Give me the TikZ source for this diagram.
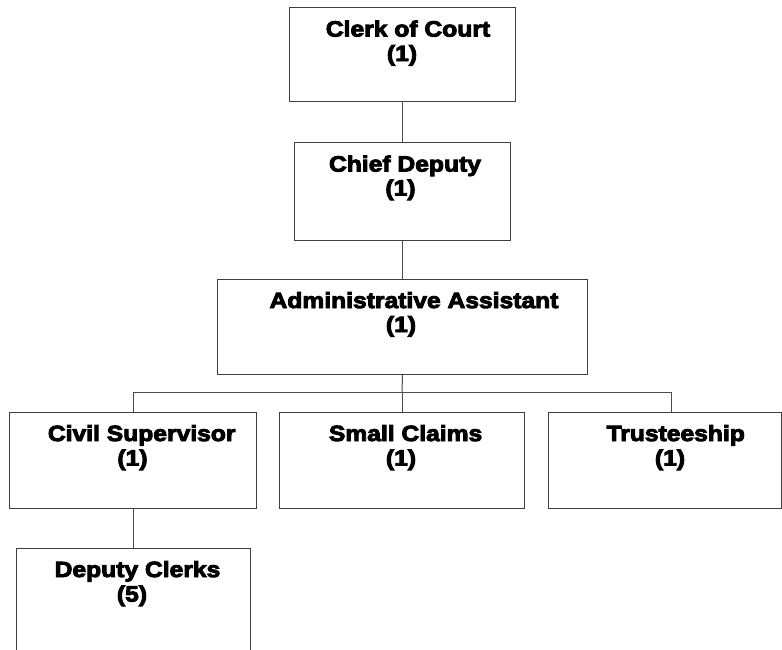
\documentclass[tikz,border=0pt]{standalone}
\usepackage{fontspec}
\newfontfamily\orgfont{Liberation Sans}[BoldFeatures={FakeStretch=1.12,FakeBold=4.2}]
\begin{document}
\begin{tikzpicture}[x=1pt,y=-1pt,
  orgbox/.style={draw=black!75, line width=1pt, rectangle, inner sep=0pt,
    anchor=north west},
  title/.style={anchor=base, inner sep=0pt,
    font=\orgfont\bfseries\fontsize{22}{24}\selectfont},
  link/.style={draw=black!70, line width=1pt}]
\useasboundingbox (0,0) rectangle (782,649);
\clip (0,0) rectangle (782,649);

% position boxes
\node[orgbox, minimum width=226pt, minimum height=94pt] (clerk) at (289,7) {};
\node[orgbox, minimum width=216pt, minimum height=98pt] (chief) at (294,142) {};
\node[orgbox, minimum width=370pt, minimum height=95pt] (admin) at (217,279) {};
\node[orgbox, minimum width=247pt, minimum height=96pt] (civil) at (9,412) {};
\node[orgbox, minimum width=245pt, minimum height=96pt] (small) at (279,412) {};
\node[orgbox, minimum width=233pt, minimum height=96pt] (trust) at (548,412) {};
\node[orgbox, minimum width=234pt, minimum height=120pt] (deputy) at (15.5,548) {};

% titles and head counts
\node[title] (clerkT) at (408,36.5) {Clerk of Court};
\node[title] (clerkN) at (402,61) {(1)};
\node[title] (chiefT) at (405,171.5) {Chief Deputy};
\node[title] (chiefN) at (400.5,195.5) {(1)};
\node[title] (adminT) at (414,308) {Administrative Assistant};
\node[title] (adminN) at (401,332) {(1)};
\node[title] (civilT) at (141.7,441) {Civil Supervisor};
\node[title] (civilN) at (132.5,465.5) {(1)};
\node[title] (smallT) at (405.6,441) {Small Claims};
\node[title] (smallN) at (401,465.5) {(1)};
\node[title] (trustT) at (675.7,441) {Trusteeship};
\node[title] (trustN) at (670,465.5) {(1)};
\node[title] (deputyT) at (137.5,577) {Deputy Clerks};
\node[title] (deputyN) at (132,601.5) {(5)};

% reporting lines
\coordinate (bus) at (402,392.5);
\coordinate (trustDrop) at (671.7,412);
\draw[link] (clerk.south) -- (clerk.south |- chief.north);
\draw[link] (chief.south) -- (chief.south |- admin.north);
\draw[link] (admin.south) -- (bus);
\draw[link] (civil.north) -- (civil.north |- bus) -- (trustDrop |- bus) -- (trustDrop);
\draw[link] (bus) -- (bus |- small.north);
\draw[link] (civil.south) -- (civil.south |- deputy.north);
\end{tikzpicture}
\end{document}
